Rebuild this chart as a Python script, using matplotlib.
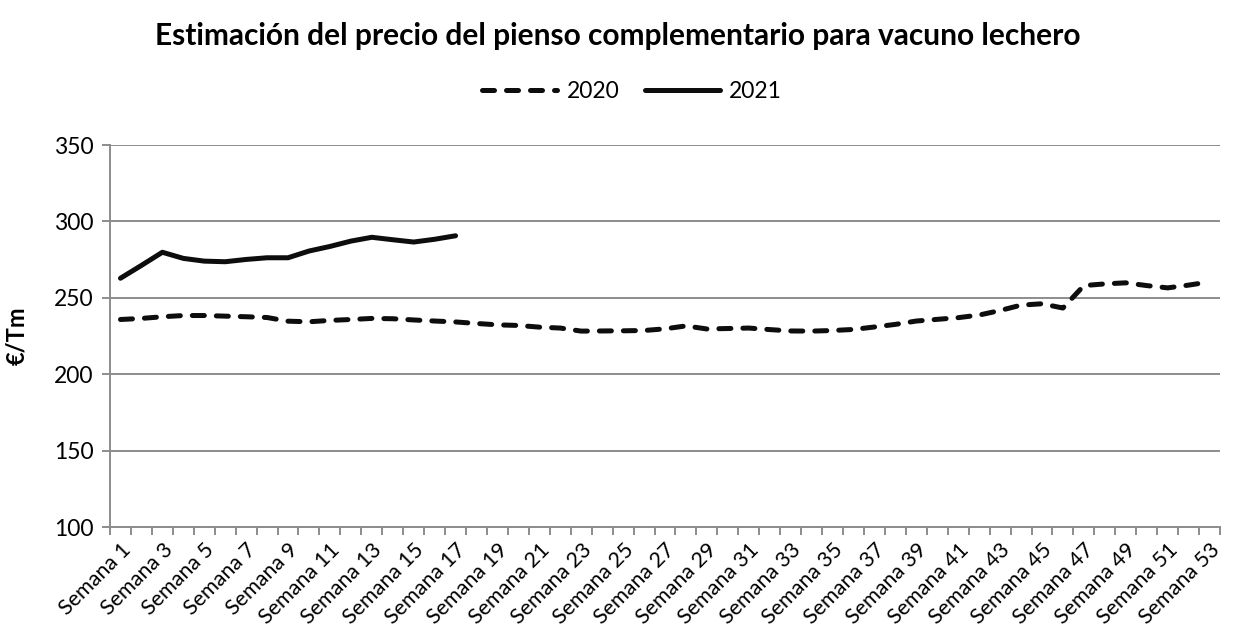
import matplotlib.pyplot as plt

plt.rcParams['font.family'] = ['Lato', 'DejaVu Sans']

semanas = ["Semana " + str(i) for i in range(1, 54)]

precio_2020 = [235.8, 236.5, 237.6, 238.4, 238.4, 238.0, 237.6, 237.1, 234.7, 234.3,
               235.2, 235.8, 236.5, 236.3, 235.5, 234.8, 234.2, 233.2, 232.3, 231.9,
               230.8, 230.2, 228.2, 228.3, 228.4, 228.6, 229.7, 231.6, 229.6, 229.9,
               230.2, 229.2, 228.3, 228.2, 228.6, 229.3, 230.9, 232.6, 234.8, 235.9,
               237.0, 238.7, 241.7, 245.2, 246.1, 243.3, 258.0, 259.1, 259.8, 258.0,
               256.5, 258.3, 260.4]

precio_2021 = [262.8, 271.2, 279.8, 275.8, 274.0, 273.6, 275.1, 276.2, 276.2, 280.6,
               283.6, 287.1, 289.6, 288.0, 286.5, 288.3, 290.6]

fig = plt.figure(figsize=(12.36, 6.30), dpi=100)
ax = fig.add_axes([110 / 1236, 1 - 527 / 630, 1110 / 1236, 382 / 630])

x20 = list(range(1, len(precio_2020) + 1))
x21 = list(range(1, len(precio_2021) + 1))

ax.plot(x20, precio_2020, color="#0d0d0d", lw=3.6, dashes=(2.4, 2.4),
        dash_capstyle="round", solid_capstyle="round", label="2020", zorder=3)
ax.plot(x21, precio_2021, color="#0d0d0d", lw=3.6, solid_capstyle="round",
        label="2021", zorder=3)

ax.set_xlim(0.5, 53.5)
ax.set_ylim(100, 350)
ax.set_yticks([100, 150, 200, 250, 300, 350])
ax.yaxis.grid(True, color="#8c8c8c", lw=1.4)
ax.set_axisbelow(True)

# tick marks between categories, labels on odd weeks
ax.set_xticks([i + 0.5 for i in range(0, 54)], minor=True)
ax.set_xticks(x20[::2])
ax.set_xticklabels(semanas[::2], rotation=45, ha="right", rotation_mode="anchor", fontsize=15.5)
ax.tick_params(axis="x", which="major", length=0, pad=9)
ax.tick_params(axis="x", which="minor", length=6, width=1.4, color="#8c8c8c")
ax.tick_params(axis="y", length=6, width=1.4, color="#8c8c8c", labelsize=16.5, pad=6)

for s in ["top", "right"]:
    ax.spines[s].set_visible(False)
for s in ["left", "bottom"]:
    ax.spines[s].set_color("#8c8c8c")
    ax.spines[s].set_linewidth(1.4)

ax.set_ylabel("€/Tm", fontsize=17, fontweight="bold", labelpad=18)

fig.text(0.5, 1 - 36 / 630, "Estimación del precio del pienso complementario para vacuno lechero",
         ha="center", va="center", fontsize=21.5, fontweight="bold")

ax.legend(loc="center", bbox_to_anchor=(522 / 1110, 1 + 53 / 382), ncol=2, frameon=False,
          fontsize=16.5, handlelength=3.3, columnspacing=1.1, handletextpad=0.4)

fig.savefig("out.png", dpi=100)
